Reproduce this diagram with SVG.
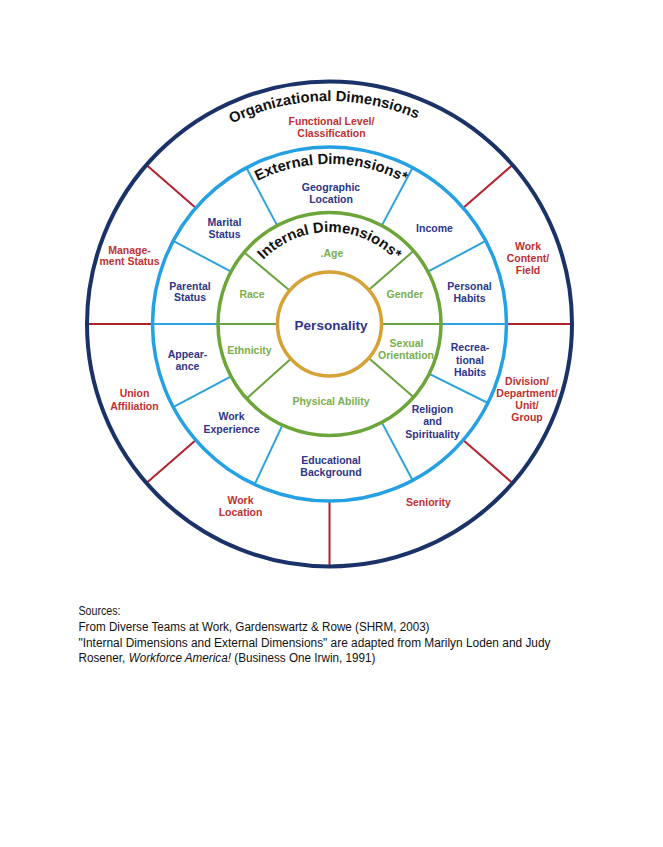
<svg xmlns="http://www.w3.org/2000/svg" width="663" height="847" viewBox="0 0 663 847">
<style>
.bg{fill:#ffffff}
.ring{fill:none}
.org{stroke:#1b3268;stroke-width:4}
.ext{stroke:#25a0e2;stroke-width:3.5}
.int{stroke:#6ca53a;stroke-width:3.5}
.core{stroke:#d6a136;stroke-width:3.5}
.lr{stroke:#b3212d;stroke-width:2}
.lb{stroke:#2fa2dc;stroke-width:2}
.lg{stroke:#6aa33d;stroke-width:2}
.t{font-family:"Liberation Sans",Arial,sans-serif;font-weight:bold;font-size:10.5px;text-anchor:middle}
.nv{fill:#2d3589}
.rd{fill:#c03030}
.gr{fill:#78ae4c}
.title{font-family:"Liberation Sans",Arial,sans-serif;font-weight:bold;font-size:14.8px;fill:#111111;text-anchor:middle}
.src{font-family:"Liberation Sans",Arial,sans-serif;font-size:12px;fill:#111111}
</style>
<defs>
<path id="arcOrg" d="M136.4 212.5 A223 223 0 0 1 522.6 212.5"/>
<path id="arcExt" d="M190.9 244 A160 160 0 0 1 468.1 244"/>
<path id="arcInt" d="M238.9 308 A92 92 0 0 1 420.1 308"/>
</defs>
<rect class="bg" x="0" y="0" width="663" height="847"/>
<g id="connectors">
<line class="lr" x1="463.1" y1="207.9" x2="512.5" y2="164.9"/>
<line class="lr" x1="195.9" y1="207.9" x2="146.5" y2="164.9"/>
<line class="lr" x1="463.1" y1="440.1" x2="512.5" y2="483.1"/>
<line class="lr" x1="195.9" y1="440.1" x2="146.5" y2="483.1"/>
<line class="lr" x1="329.5" y1="501" x2="329.5" y2="566.5"/>
<line class="lr" x1="506.5" y1="324" x2="572" y2="324"/>
<line class="lr" x1="152.5" y1="324" x2="87" y2="324"/>
<line class="lb" x1="427.9" y1="271.7" x2="485.8" y2="240.9"/>
<line class="lb" x1="429.3" y1="373.8" x2="487.9" y2="403"/>
<line class="lb" x1="231.1" y1="271.7" x2="173.2" y2="240.9"/>
<line class="lb" x1="231.1" y1="376.3" x2="173.2" y2="407.1"/>
<line class="lb" x1="381.8" y1="225.6" x2="412.6" y2="167.7"/>
<line class="lb" x1="381.8" y1="422.4" x2="412.6" y2="480.3"/>
<line class="lb" x1="277.2" y1="225.6" x2="246.4" y2="167.7"/>
<line class="lb" x1="282.4" y1="425.1" x2="254.7" y2="484.4"/>
<line class="lb" x1="441" y1="324" x2="506.5" y2="324"/>
<line class="lb" x1="218" y1="324" x2="152.5" y2="324"/>
<line class="lg" x1="289.7" y1="290.6" x2="244.1" y2="252.3"/>
<line class="lg" x1="368.7" y1="289.9" x2="413.7" y2="250.8"/>
<line class="lg" x1="368.7" y1="358.1" x2="413.7" y2="397.2"/>
<line class="lg" x1="290.9" y1="358.8" x2="246.6" y2="398.6"/>
<line class="lg" x1="381.5" y1="324" x2="441" y2="324"/>
<line class="lg" x1="277.5" y1="324" x2="218" y2="324"/>
</g>
<g id="organizational">
<circle class="ring org" cx="329.5" cy="324" r="242.5"/>
<text class="title"><textPath href="#arcOrg" startOffset="48.8%">Organizational Dimensions</textPath></text>
<text class="t rd" x="331.5" y="124.5">Functional Level/</text>
<text class="t rd" x="331.5" y="136.5">Classification</text>
<text class="t rd" x="528" y="249.5">Work</text>
<text class="t rd" x="528" y="261.5">Content/</text>
<text class="t rd" x="528" y="273.5">Field</text>
<text class="t rd" x="527" y="384.5">Division/</text>
<text class="t rd" x="527" y="396.5">Department/</text>
<text class="t rd" x="527" y="408.5">Unit/</text>
<text class="t rd" x="527" y="421">Group</text>
<text class="t rd" x="428.5" y="506">Seniority</text>
<text class="t rd" x="240.5" y="503.5">Work</text>
<text class="t rd" x="240.5" y="515.5">Location</text>
<text class="t rd" x="134.5" y="397">Union</text>
<text class="t rd" x="134.5" y="409.5">Affiliation</text>
<text class="t rd" x="129.5" y="253.5">Manage-</text>
<text class="t rd" x="129.5" y="265">ment Status</text>
</g>
<g id="external">
<circle class="ring ext" cx="329.5" cy="324" r="177"/>
<text class="title"><textPath href="#arcExt" startOffset="50.5%">External Dimensions*</textPath></text>
<text class="t nv" x="331" y="190.5">Geographic</text>
<text class="t nv" x="331" y="202.5">Location</text>
<text class="t nv" x="434.5" y="232">Income</text>
<text class="t nv" x="469.5" y="290">Personal</text>
<text class="t nv" x="469.5" y="302">Habits</text>
<text class="t nv" x="470" y="351">Recrea-</text>
<text class="t nv" x="470" y="363.5">tional</text>
<text class="t nv" x="470" y="375.5">Habits</text>
<text class="t nv" x="432.5" y="413">Religion</text>
<text class="t nv" x="432.5" y="425">and</text>
<text class="t nv" x="432.5" y="437.5">Spirituality</text>
<text class="t nv" x="331" y="463.5">Educational</text>
<text class="t nv" x="331" y="476">Background</text>
<text class="t nv" x="231.5" y="420">Work</text>
<text class="t nv" x="231.5" y="432.5">Experience</text>
<text class="t nv" x="187.5" y="358">Appear-</text>
<text class="t nv" x="187.5" y="370">ance</text>
<text class="t nv" x="190" y="289.5">Parental</text>
<text class="t nv" x="190" y="301">Status</text>
<text class="t nv" x="224.5" y="226">Marital</text>
<text class="t nv" x="224.5" y="238">Status</text>
</g>
<g id="internal">
<circle class="ring int" cx="329.5" cy="324" r="111.5"/>
<text class="title"><textPath href="#arcInt" startOffset="50%">Internal Dimensions*</textPath></text>
<text class="t gr" x="332" y="256.5">.Age</text>
<text class="t gr" x="405" y="298">Gender</text>
<text class="t gr" x="406.5" y="347">Sexual</text>
<text class="t gr" x="406" y="359">Orientation</text>
<text class="t gr" x="331" y="404.5">Physical Ability</text>
<text class="t gr" x="249.5" y="353.5">Ethnicity</text>
<text class="t gr" x="252" y="297.5">Race</text>
</g>
<g id="personality">
<circle class="ring core" cx="329.5" cy="324" r="52"/>
<text x="331" y="329.5" style="font-family:'Liberation Sans',Arial,sans-serif;font-weight:bold;font-size:13.5px;fill:#2d3589;text-anchor:middle">Personality</text>
</g>
<g id="sources">
<text class="src" x="78.5" y="615" textLength="42" lengthAdjust="spacingAndGlyphs">Sources:</text>
<text class="src" x="78.5" y="631" textLength="351" lengthAdjust="spacingAndGlyphs">From Diverse Teams at Work, Gardenswartz &amp; Rowe (SHRM, 2003)</text>
<text class="src" x="78.5" y="646.5" textLength="472" lengthAdjust="spacingAndGlyphs">"Internal Dimensions and External Dimensions" are adapted from Marilyn Loden and Judy</text>
<text class="src" x="78.5" y="662" textLength="297" lengthAdjust="spacingAndGlyphs">Rosener, <tspan font-style="italic">Workforce America!</tspan> (Business One Irwin, 1991)</text>
</g>
</svg>
